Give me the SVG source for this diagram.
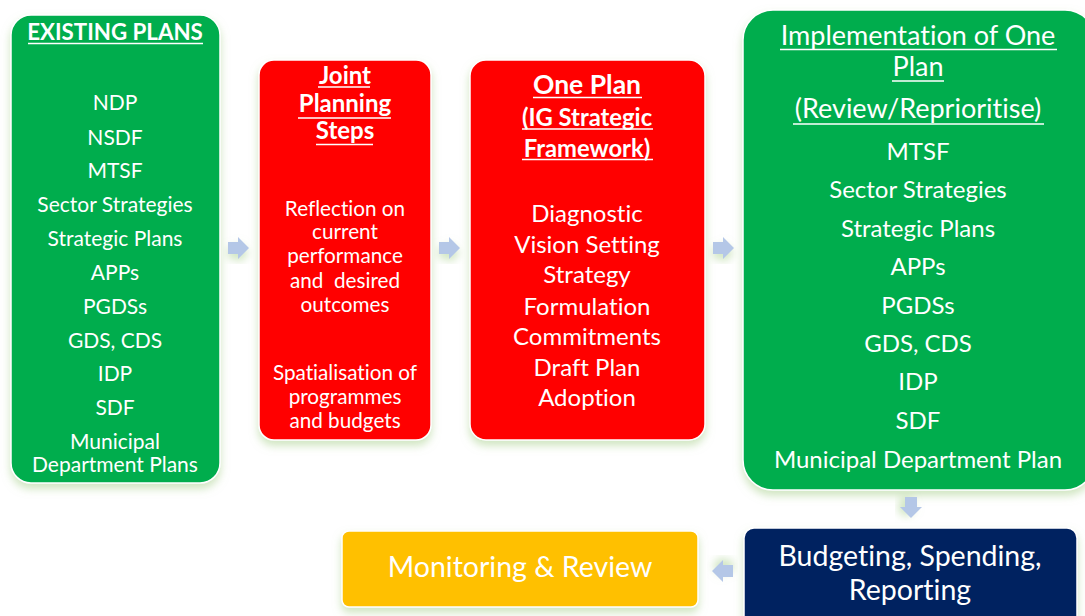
<svg xmlns="http://www.w3.org/2000/svg" width="1085" height="616" viewBox="0 0 1085 616">
  <defs>
    <filter id="glow" x="-20%" y="-20%" width="140%" height="140%">
      <feDropShadow dx="0" dy="5" stdDeviation="4" flood-color="#a8d08d" flood-opacity="0.55"/>
    </filter>
    <path id="arrowR" d="M0,-6 H10 V-11 L21,0 L10,11 V6 H0 Z"/>
  </defs>
  <style>
    text { font-family: Lato, "Open Sans", "Liberation Sans", sans-serif; fill: #ffffff; text-anchor: middle; font-variant-ligatures: none; }
    .box { stroke: #ffffff; stroke-width: 1.5; filter: url(#glow); }
    .green { fill: #00ad4e; }
    .red { fill: #ff0000; }
    .navy { fill: #002060; }
    .gold { fill: #ffc000; }
    .arrow { fill: #b4c7e7; filter: url(#glow); }
    .hd { font-weight: bold; }
    .uline { stroke: #ffffff; stroke-width: 1.6; fill: none; }
  </style>
  <rect width="1085" height="616" fill="#ffffff"/>

  <!-- Existing plans -->
  <g id="existing-plans">
    <rect class="box green" x="11" y="15" width="209" height="468" rx="20"/>
    <text class="hd" x="115" y="40" font-size="22.3">EXISTING PLANS</text>
    <path class="uline" d="M28,43.5 H203"/>
    <g font-size="21">
      <text x="115" y="109.5">NDP</text>
      <text x="115" y="144.5">NSDF</text>
      <text x="115" y="177.5">MTSF</text>
      <text x="115" y="211.5">Sector Strategies</text>
      <text x="115" y="245.5">Strategic Plans</text>
      <text x="115" y="279.5">APPs</text>
      <text x="115" y="313.5">PGDSs</text>
      <text x="115" y="347.5">GDS, CDS</text>
      <text x="115" y="380.5">IDP</text>
      <text x="115" y="414.5">SDF</text>
      <text x="115" y="448.5">Municipal</text>
      <text x="115" y="471.5">Department Plans</text>
    </g>
  </g>

  <!-- Joint planning steps -->
  <g id="joint-planning">
    <rect class="box red" x="259" y="60" width="172" height="380" rx="15"/>
    <g class="hd" font-size="24">
      <text x="345" y="84">Joint</text>
      <text x="345" y="112">Planning</text>
      <text x="345" y="139">Steps</text>
    </g>
    <path class="uline" d="M318,87 H370 M298,118 H391 M316,144.5 H373"/>
    <g font-size="20.7">
      <text x="345" y="215.5">Reflection on</text>
      <text x="345" y="239">current</text>
      <text x="345" y="263">performance</text>
      <text x="345" y="287.5" xml:space="preserve">and  desired</text>
      <text x="345" y="311.5">outcomes</text>
      <text x="345" y="380">Spatialisation of</text>
      <text x="345" y="404">programmes</text>
      <text x="345" y="428">and budgets</text>
    </g>
  </g>

  <!-- One plan -->
  <g id="one-plan">
    <rect class="box red" x="470" y="60" width="235" height="380" rx="16"/>
    <text class="hd" x="587" y="94" font-size="26.5">One Plan</text>
    <text class="hd" x="587" y="126" font-size="23.8">(IG Strategic</text>
    <text class="hd" x="587" y="157" font-size="23.8">Framework)</text>
    <path class="uline" d="M533,97.5 H642 M522,129 H653 M522,159.5 H653"/>
    <g font-size="24">
      <text x="587" y="222">Diagnostic</text>
      <text x="587" y="253">Vision Setting</text>
      <text x="587" y="283">Strategy</text>
      <text x="587" y="315">Formulation</text>
      <text x="587" y="345">Commitments</text>
      <text x="587" y="376">Draft Plan</text>
      <text x="587" y="406">Adoption</text>
    </g>
  </g>

  <!-- Implementation -->
  <g id="implementation">
    <rect class="box green" x="743" y="10" width="352" height="480" rx="30"/>
    <g font-size="27">
      <text x="918" y="45">Implementation of One</text>
      <text x="918" y="76">Plan</text>
      <text x="918" y="118">(Review/Reprioritise)</text>
    </g>
    <path class="uline" d="M780,49.5 H1057 M892,81 H944 M793,124 H1044"/>
    <g font-size="24">
      <text x="918" y="160">MTSF</text>
      <text x="918" y="198">Sector Strategies</text>
      <text x="918" y="237">Strategic Plans</text>
      <text x="918" y="275">APPs</text>
      <text x="918" y="314">PGDSs</text>
      <text x="918" y="352">GDS, CDS</text>
      <text x="918" y="390">IDP</text>
      <text x="918" y="429">SDF</text>
      <text x="918" y="468">Municipal Department Plan</text>
    </g>
  </g>

  <!-- Budgeting -->
  <g id="budgeting">
    <rect class="box navy" x="744" y="528" width="333" height="100" rx="10"/>
    <text x="910" y="566" font-size="28.5">Budgeting, Spending,</text>
    <text x="910" y="600" font-size="28.5">Reporting</text>
  </g>

  <!-- Monitoring -->
  <g id="monitoring">
    <rect class="box gold" x="342" y="531" width="356" height="76" rx="7"/>
    <text x="520" y="577" font-size="28.5">Monitoring &amp; Review</text>
  </g>

  <!-- Connectors -->
  <g id="connectors">
    <use href="#arrowR" class="arrow" transform="translate(228,248)"/>
    <use href="#arrowR" class="arrow" transform="translate(439,248)"/>
    <use href="#arrowR" class="arrow" transform="translate(713,248)"/>
    <use href="#arrowR" class="arrow" transform="translate(911,497) rotate(90)"/>
    <use href="#arrowR" class="arrow" transform="translate(733,571) rotate(180)"/>
  </g>
</svg>
